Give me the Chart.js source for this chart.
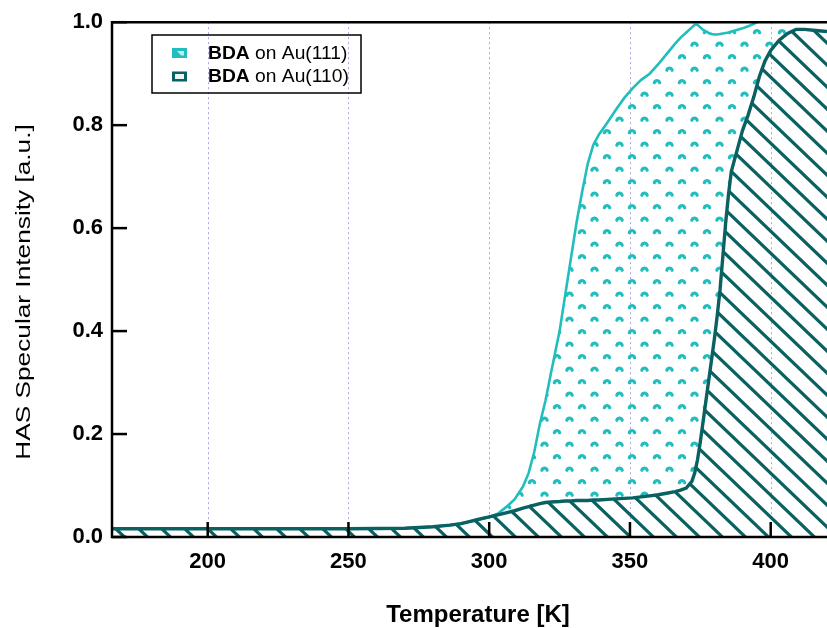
<!DOCTYPE html>
<html><head><meta charset="utf-8">
<script src="https://cdn.jsdelivr.net/npm/chart.js@4"></script>
<style>html,body{margin:0;padding:0;background:#fff;}canvas{display:block}</style>
</head><body>
<canvas id="c" width="827" height="628"></canvas>
<script>
// ---- data ----
const seriesNames = ['BDA on Au(111)', 'BDA on Au(110)'];
const temperatures = [166,180,200,220,250,270,280,286,290,293,296,300,303,306,309,312,314,316,318,320,322,325,327,329,331,333,335,337,339,342,345,348,351,354,357,360,363,366,368,370,372,373,374,375,376,377,378,379,380,381,382,383,384,385,386,388,390,392,394,396,398,400,403,406,409,412,416,420];
const intensityAu111 = [0.016,0.016,0.016,0.016,0.016,0.017,0.020,0.023,0.026,0.030,0.034,0.039,0.045,0.058,0.073,0.098,0.124,0.165,0.22,0.265,0.32,0.40,0.47,0.54,0.61,0.67,0.725,0.762,0.782,0.805,0.830,0.853,0.872,0.888,0.900,0.918,0.938,0.958,0.970,0.980,0.990,0.995,0.995,0.990,0.985,0.982,0.979,0.977,0.976,0.976,0.977,0.978,0.979,0.980,0.982,0.985,0.988,0.992,0.997,1.003,1.01,1.015,1.02,1.02,1.02,1.02,1.02,1.02];
const intensityAu110 = [0.016,0.016,0.016,0.016,0.016,0.017,0.020,0.023,0.026,0.030,0.034,0.039,0.043,0.047,0.051,0.056,0.059,0.062,0.065,0.067,0.068,0.069,0.070,0.070,0.071,0.071,0.071,0.072,0.072,0.073,0.074,0.075,0.076,0.078,0.080,0.082,0.085,0.088,0.091,0.095,0.108,0.124,0.150,0.185,0.225,0.265,0.305,0.345,0.385,0.43,0.48,0.545,0.61,0.665,0.71,0.75,0.79,0.82,0.855,0.895,0.925,0.945,0.965,0.978,0.986,0.986,0.984,0.982];
const xTickValues = [200,250,300,350,400];
const yTickValues = [0,0.2,0.4,0.6,0.8,1.0];
const xTitle = 'Temperature [K]';
const yTitle = 'HAS Specular Intensity [a.u.]';

// ---- styles ----
const CYAN = '#22bdbd';
const DARK = '#0a6161';
const FONT = "'Liberation Sans', Arial, Helvetica, sans-serif";

function dotPattern() {
  const c = document.createElement('canvas');
  c.width = 25; c.height = 25;
  const g = c.getContext('2d');
  g.strokeStyle = CYAN; g.lineWidth = 3.2; g.lineCap = 'round';
  [[7,8.5],[19.5,21]].forEach(([x,y]) => {
    g.beginPath(); g.arc(x, y, 2.8, Math.PI + 0.3, 2*Math.PI - 0.3); g.stroke();
  });
  return g.createPattern(c, 'repeat');
}
function hatchPattern() {
  const w = 23, h = 22;
  const c = document.createElement('canvas');
  c.width = w; c.height = h;
  const g = c.getContext('2d');
  g.strokeStyle = DARK; g.lineWidth = 3.2;
  [-h, 0, h].forEach(off => {
    g.beginPath(); g.moveTo(-w, off - h); g.lineTo(2*w, off + 2*h); g.stroke();
  });
  return g.createPattern(c, 'repeat');
}

const pts = (ys) => temperatures.map((t, i) => ({x: t, y: ys[i]}));

const decor = {
  id: 'decor',
  beforeDatasetsDraw(chart) {
    const {ctx, chartArea: a, scales: {x}} = chart;
    ctx.save();
    ctx.strokeStyle = '#aaa2e6'; ctx.lineWidth = 1; ctx.setLineDash([2,3]);
    xTickValues.forEach(v => {
      const px = Math.round(x.getPixelForValue(v)) + 0.5;
      ctx.beginPath(); ctx.moveTo(px, a.top); ctx.lineTo(px, a.bottom); ctx.stroke();
    });
    ctx.restore();
  },
  afterDatasetsDraw(chart) {
    const {ctx, chartArea: a, scales: {x, y}} = chart;
    ctx.save();
    ctx.strokeStyle = '#000'; ctx.lineWidth = 2.5; ctx.setLineDash([]);
    ctx.beginPath();
    ctx.moveTo(a.right + 2, a.top); ctx.lineTo(a.left, a.top); ctx.lineTo(a.left, a.bottom); ctx.lineTo(a.right + 2, a.bottom);
    ctx.stroke();
    // inward tick marks
    xTickValues.forEach(v => {
      const px = x.getPixelForValue(v);
      ctx.beginPath(); ctx.moveTo(px, a.bottom); ctx.lineTo(px, a.bottom - 15); ctx.stroke();
    });
    yTickValues.forEach(v => {
      const py = y.getPixelForValue(v);
      ctx.beginPath(); ctx.moveTo(a.left, py); ctx.lineTo(a.left + 15, py); ctx.stroke();
    });
    // axis titles
    ctx.fillStyle = '#000';
    ctx.font = 'bold 24px ' + FONT;
    ctx.textAlign = 'center'; ctx.textBaseline = 'alphabetic';
    ctx.fillText(xTitle, 478, 622);
    ctx.save();
    ctx.translate(30, 292); ctx.rotate(-Math.PI/2); ctx.scale(1.25, 1);
    ctx.font = '21px ' + FONT;
    ctx.fillText(yTitle, 0, 0);
    ctx.restore();
    // legend
    ctx.lineWidth = 1.5; ctx.strokeStyle = '#000';
    ctx.strokeRect(152, 35, 209, 58);
    // swatch 1
    ctx.fillStyle = CYAN; ctx.fillRect(172, 48, 15, 10);
    ctx.fillStyle = '#bdeeee';
    ctx.beginPath(); ctx.moveTo(177, 51); ctx.lineTo(184, 51); ctx.lineTo(184, 55.5); ctx.lineTo(181, 55.5); ctx.closePath(); ctx.fill();
    // swatch 2
    ctx.fillStyle = DARK; ctx.fillRect(172, 71.5, 15, 10);
    ctx.fillStyle = '#eef4f4'; ctx.fillRect(175, 74, 9, 5);
    const rows = [[seriesNames[0], 58.5], [seriesNames[1], 82]];
    rows.forEach(([name, by]) => {
      const bold = name.slice(0, 3), rest = name.slice(3);
      ctx.save();
      ctx.translate(208, by); ctx.scale(1.1, 1);
      ctx.textAlign = 'left'; ctx.fillStyle = '#000';
      ctx.font = 'bold 17.5px ' + FONT;
      ctx.fillText(bold, 0, 0);
      const w = ctx.measureText(bold).width;
      ctx.font = '17.5px ' + FONT;
      ctx.fillText(rest, w, 0);
      ctx.restore();
    });
    ctx.restore();
  }
};

new Chart(document.getElementById('c'), {
  type: 'line',
  data: {
    datasets: [
      {
        label: seriesNames[1], data: pts(intensityAu110),
        borderColor: DARK, borderWidth: 3.4, pointRadius: 0, tension: 0,
        fill: 'origin', backgroundColor: hatchPattern()
      },
      {
        label: seriesNames[0], data: pts(intensityAu111),
        borderColor: CYAN, borderWidth: 2.6, pointRadius: 0, tension: 0,
        fill: '-1', backgroundColor: dotPattern()
      }
    ]
  },
  options: {
    responsive: false, animation: false, devicePixelRatio: 1,
    layout: {padding: {top: 19, right: 0, left: 0, bottom: 0}},
    plugins: {legend: {display: false}, tooltip: {enabled: false}, title: {display: false}},
    scales: {
      x: {
        type: 'linear', min: 166, max: 420,
        grid: {display: false, drawTicks: false}, border: {display: false},
        afterBuildTicks: s => { s.ticks = xTickValues.map(v => ({value: v})); },
        afterFit: s => { s.height = 91; },
        ticks: {padding: 12, color: '#000', font: {family: FONT, size: 22, weight: 'bold'}, maxRotation: 0, autoSkip: false}
      },
      y: {
        min: 0, max: 1,
        grid: {display: false, drawTicks: false}, border: {display: false},
        afterBuildTicks: s => { s.ticks = yTickValues.map(v => ({value: v})); },
        afterFit: s => { s.width = 112; },
        ticks: {padding: 9, color: '#000', font: {family: FONT, size: 22, weight: 'bold'}, callback: v => v.toFixed(1)}
      }
    }
  },
  plugins: [decor]
});
</script>
</body></html>
